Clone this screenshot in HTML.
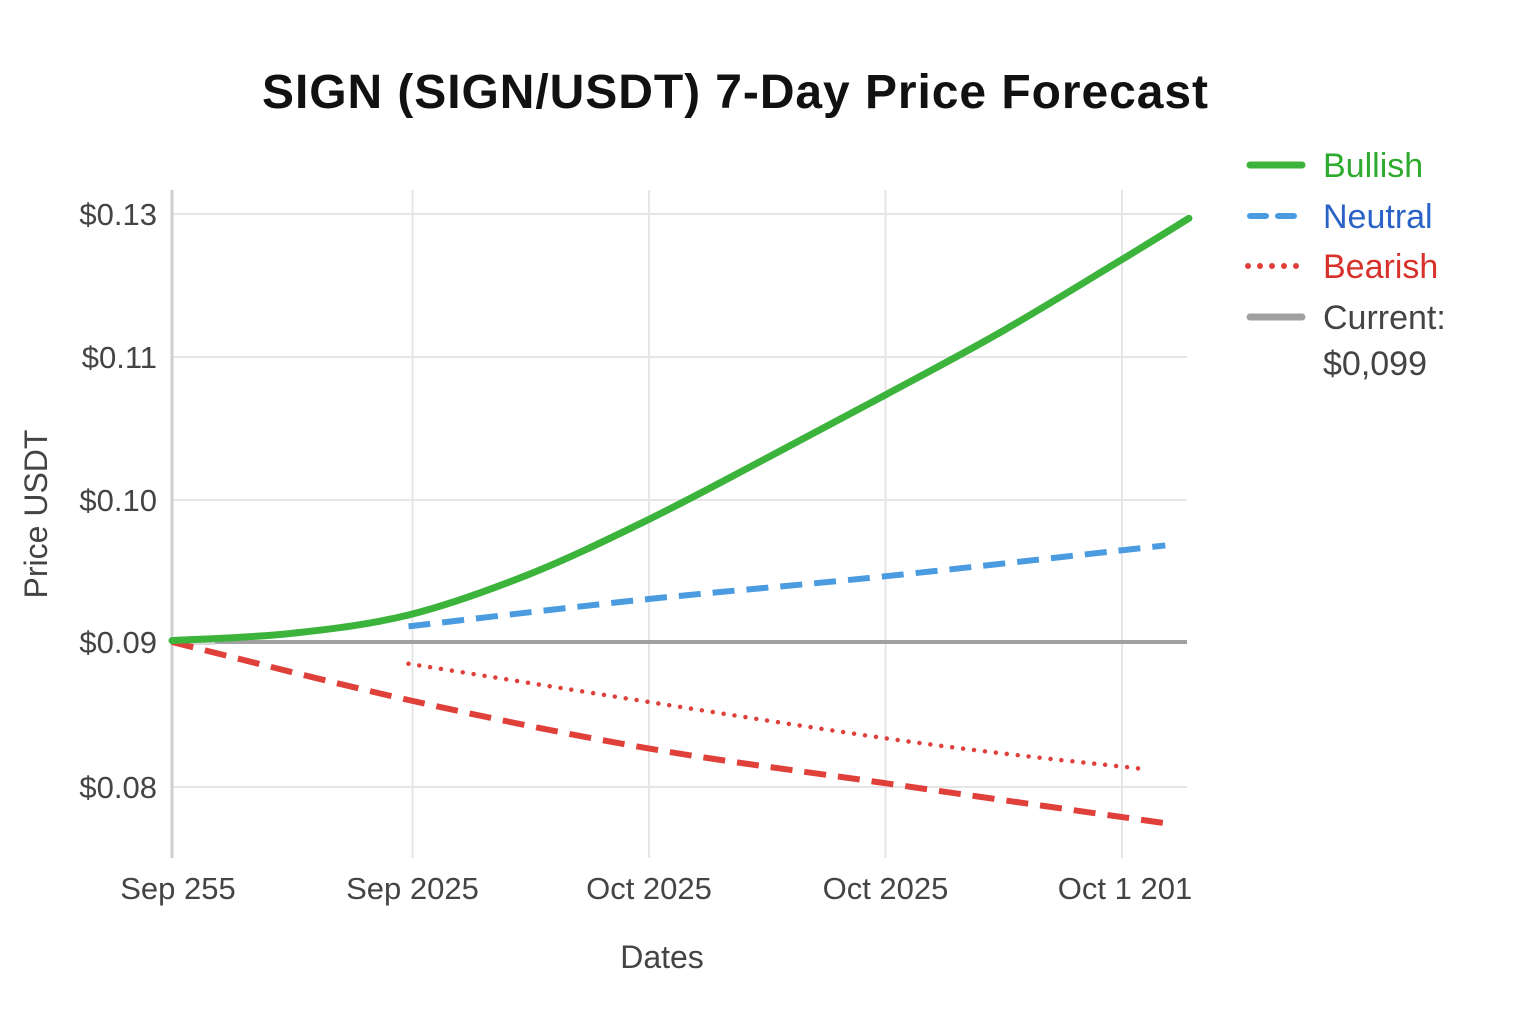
<!DOCTYPE html>
<html><head><meta charset="utf-8"><style>
body{margin:0;background:#fff;}
svg{display:block;font-family:"Liberation Sans",sans-serif;}
</style></head><body>
<svg width="1536" height="1024" viewBox="0 0 1536 1024">
<text x="735" y="108" text-anchor="middle" font-size="48" font-weight="bold" fill="#111" textLength="946">SIGN (SIGN/USDT) 7-Day Price Forecast</text>
<g id="grid"></g><g id="series"></g><g id="labels"></g>
<text x="662" y="968" text-anchor="middle" font-size="32" fill="#444">Dates</text>
<text transform="translate(47,514) rotate(-90)" text-anchor="middle" font-size="32" fill="#444">Price USDT</text>
<g id="legend" font-size="34">
<g><line x1="1250" y1="165" x2="1302" y2="165" stroke="#3cb43c" stroke-width="7" stroke-linecap="round"/><text x="1323" y="177" fill="#2eaa2e">Bullish</text></g>
<g><line x1="1250" y1="216" x2="1302" y2="216" stroke="#4a9be0" stroke-width="6" stroke-dasharray="16 12" stroke-linecap="round"/><text x="1323" y="228" fill="#2a62c6">Neutral</text></g>
<g><line x1="1248" y1="266" x2="1304" y2="266" stroke="#e0403a" stroke-width="6" stroke-dasharray="0 12" stroke-linecap="round"/><text x="1323" y="278" fill="#d8302a">Bearish</text></g>
<g><line x1="1250" y1="317" x2="1302" y2="317" stroke="#a0a0a0" stroke-width="7" stroke-linecap="round"/><text x="1323" y="329" fill="#444">Current:</text><text x="1323" y="375" fill="#444">$0,099</text></g>
</g>
</svg>
<script>
const yTicks=[0.08,0.09,0.10,0.11,0.13];
const yTickLabels=["$0.08","$0.09","$0.10","$0.11","$0.13"];
const xTicks=[0,1,2,3,4];
const xTickLabels=["Sep 255","Sep 2025","Oct 2025","Oct 2025","Oct 1 201"];
const bullishDays=[0,0.5,1,1.5,2,2.5,3,3.5,4,4.3];
const bullishValues=[0.0901,0.0906,0.0919,0.0947,0.0985,0.1028,0.1072,0.1134,0.1233,0.1294];
const neutralDays=[1,2,3,4.2];
const neutralValues=[0.0911,0.0930,0.0946,0.0968];
const bearishDays=[0,1,2,3,4.2];
const bearishValues=[0.09,0.086,0.0827,0.0803,0.0775];
const bearishAltDays=[1,3,4.13];
const bearishAltValues=[0.0885,0.0834,0.0812];
const currentValue=0.09;
const yPix=[787,642,500,357,214];
function X(d){return 172+d*236.5;}
function Y(v){
  if(v<=yTicks[0]) return yPix[0]+(yTicks[0]-v)/0.01*145;
  for(let i=0;i<yTicks.length-1;i++){
    if(v<=yTicks[i+1]) return yPix[i]+(v-yTicks[i])/(yTicks[i+1]-yTicks[i])*(yPix[i+1]-yPix[i]);
  }
  return yPix[yPix.length-1];
}
const NS="http://www.w3.org/2000/svg";
function mk(t,a,p){const e=document.createElementNS(NS,t);for(const k in a)e.setAttribute(k,a[k]);p.appendChild(e);return e;}
const grid=document.getElementById('grid'),ser=document.getElementById('series'),lab=document.getElementById('labels');
yTicks.forEach((v,i)=>{
  const l=mk('line',{x1:172,x2:1187,y1:Y(v),y2:Y(v),stroke:'#e6e6e6','stroke-width':2},grid);
  
  
  const t=mk('text',{x:157,y:Y(v)+11,'text-anchor':'end','font-size':31,fill:'#444'},lab);
  t.textContent=yTickLabels[i];
  
  
});
xTicks.forEach((d,i)=>{
  if(i>0){const l=mk('line',{x1:X(d)+4,x2:X(d)+4,y1:190,y2:858,stroke:'#e6e6e6','stroke-width':2},grid);
  
  }
  const t=mk('text',{x:X(d)+(i==0?6:i==4?7:4),y:899,'text-anchor':'middle','font-size':31,fill:'#444'},lab);
  t.textContent=xTickLabels[i];
  
  
});
const ax=mk('line',{x1:172,x2:172,y1:190,y2:858,stroke:'#cfcfcf','stroke-width':3},grid);


const cur=mk('line',{x1:X(0),x2:1187,y1:Y(currentValue),y2:Y(currentValue),stroke:'#a0a0a0','stroke-width':4},ser);


const cur2=mk('line',{x1:X(0),x2:215,y1:Y(currentValue),y2:Y(currentValue),stroke:'#d8d8d8','stroke-width':6},ser);


function path(days,vals){
  const p=days.map((d,i)=>[X(d),Y(vals[i])]);
  let s='M'+p[0][0]+','+p[0][1];
  for(let i=0;i<p.length-1;i++){
    const p0=p[i-1]||p[i],p1=p[i],p2=p[i+1],p3=p[i+2]||p2;
    s+=' C'+(p1[0]+(p2[0]-p0[0])/6)+','+(p1[1]+(p2[1]-p0[1])/6)+' '+(p2[0]-(p3[0]-p1[0])/6)+','+(p2[1]-(p3[1]-p1[1])/6)+' '+p2[0]+','+p2[1];
  }
  return s;
}
const b=mk('path',{d:path(bearishDays,bearishValues),fill:'none',stroke:'#e0403a','stroke-width':6,'stroke-dasharray':'22 12'},ser);


const b2=mk('path',{d:path(bearishAltDays,bearishAltValues),fill:'none',stroke:'#e0403a','stroke-width':4.5,'stroke-dasharray':'0 11','stroke-linecap':'round'},ser);


const n=mk('path',{d:path(neutralDays,neutralValues),fill:'none',stroke:'#4a9be0','stroke-width':6,'stroke-dasharray':'22 12'},ser);


const g=mk('path',{d:path(bullishDays,bullishValues),fill:'none',stroke:'#3cb43c','stroke-width':7,'stroke-linecap':'round'},ser);


</script>
</body></html>
